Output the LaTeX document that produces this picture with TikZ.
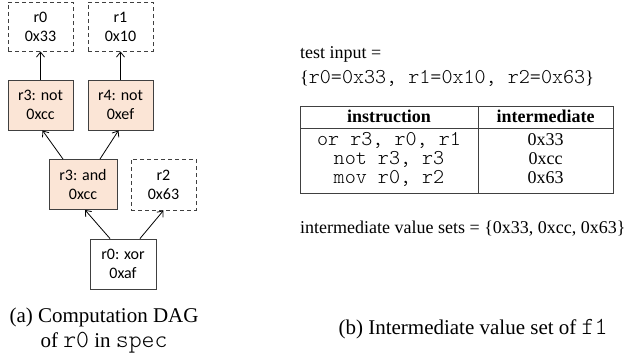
\documentclass[tikz,border=0pt]{standalone}
\usepackage{fontspec}
\setmainfont{Liberation Serif}
\setmonofont[Scale=1.17]{Latin Modern Mono Light}
\newfontfamily\boxfont{Carlito}
\usetikzlibrary{arrows.meta}
\definecolor{opfill}{HTML}{FBE5D6}
\definecolor{edge}{HTML}{404040}

\begin{document}
\begin{tikzpicture}[x=1pt,y=-1pt]
            \tikzstyle{every node}+=[inner sep=0pt]
            \tikzstyle{reg}=[draw=edge, line width=0.9pt, dash pattern=on 4pt off 3pt, minimum width=65pt, minimum height=49pt, align=center, font=\boxfont\fontsize{16}{19}\selectfont]
            \tikzstyle{op}=[reg, solid, minimum height=50pt]
            \tikzstyle{dep}=[draw=black, line width=0.8pt, -{Straight Barb[length=5pt,width=8pt]}]
            \tikzstyle{txt}=[anchor=base west, font=\fontsize{18}{21}\selectfont]
            \tikzstyle{cell}=[anchor=base, font=\fontsize{18}{21}\selectfont]
            \tikzstyle{subcap}=[anchor=base, font=\fontsize{21}{25}\selectfont]
            \useasboundingbox (0,0) rectangle (637,356);
            % computation DAG
            \node [reg] (in0) at (40.5,26.5) {r0\\0x33};
            \node [reg] (in1) at (120.5,26.5) {r1\\0x10};
            \node [op, fill=opfill] (not3) at (40.5,105) {r3: not\\0xcc};
            \node [op, fill=opfill] (not4) at (120.5,105) {r4: not\\0xef};
            \node [op, fill=opfill, minimum width=68pt] (and3) at (83,184.5) {r3: and\\0xcc};
            \node [reg, minimum height=51pt] (in2) at (163.5,184.5) {r2\\0x63};
            \node [op, minimum width=66pt] (xor0) at (123,264) {r0: xor\\0xaf};
            \draw [dep] ([xshift=-13pt]xor0.north) -- ([xshift=2pt]and3.south);
            \draw [dep] ([xshift=17pt]xor0.north) -- (in2.south);
            \draw [dep] ([xshift=-20pt]and3.north) -- ([xshift=2pt]not3.south);
            \draw [dep] ([xshift=17pt]and3.north) -- ([xshift=-2pt]not4.south);
            \draw [dep] (not3) -- (in0);
            \draw [dep] (not4) -- (in1);
            % test input
            \node [txt] (inp) at (300,58) {test input =};
            \node [txt] (inpset) at (300,83) {\{{\ttfamily r0=0x33, r1=0x10, r2=0x63}\}};
            % table
            \draw [edge, line width=0.9pt] (300,106) rectangle (613,193);
            \draw [edge, line width=0.9pt] (300,128) -- (613,128);
            \draw [edge, line width=0.9pt] (478,106) -- (478,193);
            \node [cell, font=\fontsize{18}{21}\selectfont\bfseries] (hins) at (389,122) {instruction};
            \node [cell, font=\fontsize{18}{21}\selectfont\bfseries] (hval) at (545.5,122) {intermediate};
            \node [cell, font=\fontsize{18}{21}\ttfamily] (ins1) at (389,145) {or r3, r0, r1};
            \node [cell] (val1) at (545.5,145) {0x33};
            \node [cell, font=\fontsize{18}{21}\ttfamily] (ins2) at (389,164) {not r3, r3};
            \node [cell] (val2) at (545.5,164) {0xcc};
            \node [cell, font=\fontsize{18}{21}\ttfamily] (ins3) at (389,183) {mov r0, r2};
            \node [cell] (val3) at (545.5,183) {0x63};
            \node [txt] (vset) at (300,233) {intermediate value sets = \{0x33, 0xcc, 0x63\}};
            % captions
            \node [subcap] (capa1) at (104,322) {(a) Computation DAG};
            \node [subcap] (capa2) at (104,347) {of {\ttfamily r0} in {\ttfamily spec}};
            \node [subcap] (capb) at (473,334.5) {(b) Intermediate value set of {\ttfamily f1}};
\end{tikzpicture}
\end{document}
